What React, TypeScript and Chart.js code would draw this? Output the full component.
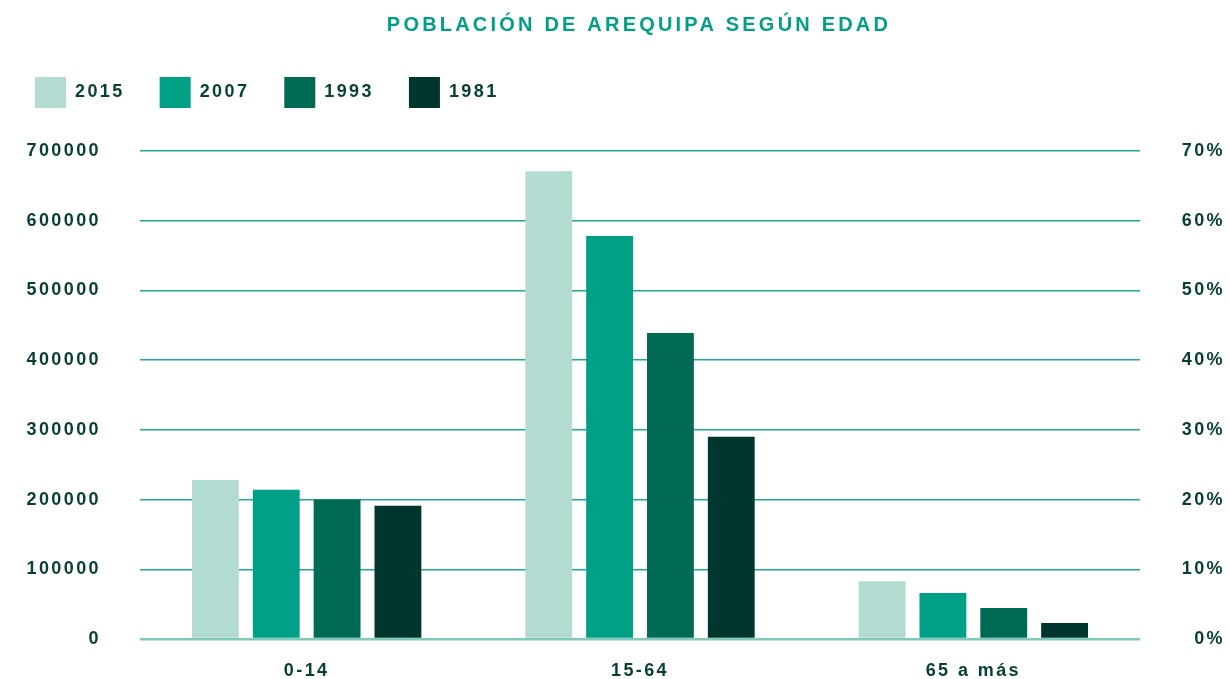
import React, { useEffect, useRef } from 'react';
import { Chart, registerables } from 'chart.js';

Chart.register(...registerables);

const TITLE = 'POBLACIÓN DE AREQUIPA SEGÚN EDAD';
const categories = ['0-14', '15-64', '65 a más'];
const years = ['2015', '2007', '1993', '1981'];
const pop2015 = [228000, 671000, 83000];
const pop2007 = [214000, 578000, 66000];
const pop1993 = [200000, 439000, 44500];
const pop1981 = [191000, 290000, 23000];
const seriesColors = ['#b2dbd1', '#00a086', '#006a54', '#00362d'];
const leftMax = 700000;
const leftStep = 100000;
const rightMax = 0.7;
const rightStep = 0.1;

const FONT = "'Liberation Sans', Arial, sans-serif";
const TEXT_COLOR = '#073f35';
const GRID_COLOR = '#1fa98f';
const ZERO_COLOR = '#7fcab9';
const TITLE_COLOR = '#00a086';

const spacingPlugin = {
  id: 'letterSpacing',
  beforeLayout(chart: any) {
    chart.ctx.letterSpacing = '2.4px';
  },
  beforeDraw(chart: any) {
    chart.ctx.letterSpacing = '2.4px';
  },
};

const titlePlugin = {
  id: 'customTitle',
  afterDraw(chart: any) {
    const { ctx, chartArea } = chart;
    ctx.save();
    ctx.font = `bold 20px ${FONT}`;
    ctx.letterSpacing = '3.2px';
    ctx.fillStyle = TITLE_COLOR;
    ctx.textAlign = 'center';
    ctx.textBaseline = 'middle';
    ctx.fillText(TITLE, (chartArea.left + chartArea.right) / 2 - 1, 25);
    ctx.restore();
  },
};

export default function App() {
  const ref = useRef<HTMLCanvasElement>(null);

  useEffect(() => {
    if (!ref.current) return;
    const seriesValues = [pop2015, pop2007, pop1993, pop1981];
    const tickFont = { family: FONT, size: 18, weight: 'bold' as const };
    const chart = new Chart(ref.current, {
      type: 'bar',
      data: {
        labels: categories,
        datasets: years.map((yr, i) => ({
          label: yr,
          data: seriesValues[i],
          backgroundColor: seriesColors[i],
          borderWidth: 0,
          barPercentage: 0.77,
          categoryPercentage: 0.73,
          xAxisID: 'x',
          yAxisID: 'y',
        })),
      },
      options: {
        animation: false,
        responsive: true,
        maintainAspectRatio: false,
        layout: { padding: { top: 42, left: 0, right: 4, bottom: 0 } },
        plugins: {
          title: { display: false },
          tooltip: { enabled: false },
          legend: {
            display: true,
            position: 'top',
            align: 'start',
            labels: {
              boxWidth: 31,
              boxHeight: 31,
              padding: 35,
              color: TEXT_COLOR,
              font: tickFont,
            },
          },
        },
        scales: {
          x: {
            type: 'category',
            position: 'bottom',
            grid: { display: false, drawTicks: false },
            border: { display: false },
            ticks: { color: TEXT_COLOR, font: tickFont, padding: 21 },
            afterFit: (s: any) => {
              s.height = 40;
            },
          },
          top: {
            type: 'category',
            position: 'top',
            display: true,
            grid: { display: false, drawTicks: false },
            border: { display: false },
            ticks: { display: false },
            afterFit: (s: any) => {
              s.height = 33;
            },
          },
          y: {
            type: 'linear',
            position: 'left',
            min: 0,
            max: leftMax,
            grid: {
              color: (c: any) => (c.tick && c.tick.value === 0 ? ZERO_COLOR : GRID_COLOR),
              lineWidth: (c: any) => (c.tick && c.tick.value === 0 ? 2.5 : 1.5),
              drawTicks: false,
            },
            border: { display: false },
            ticks: {
              stepSize: leftStep,
              color: TEXT_COLOR,
              font: tickFont,
              padding: 39,
              callback: (v: any) => String(v),
            },
            afterFit: (s: any) => {
              s.width = 140;
              s.paddingTop = 0;
              s.paddingBottom = 0;
            },
          },
          y1: {
            type: 'linear',
            position: 'right',
            min: 0,
            max: rightMax,
            grid: { display: false, drawTicks: false },
            border: { display: false },
            ticks: {
              stepSize: rightStep,
              crossAlign: 'far',
              color: TEXT_COLOR,
              font: tickFont,
              callback: (v: any) => `${Math.round(Number(v) * 100)}%`,
            },
            afterFit: (s: any) => {
              s.width = 85;
              s.paddingTop = 0;
              s.paddingBottom = 0;
            },
          },
        },
      },
      plugins: [spacingPlugin, titlePlugin],
    } as any);
    return () => chart.destroy();
  }, []);

  return (
    <div
      style={{
        position: 'absolute',
        left: 0,
        top: 0,
        width: 1229,
        height: 679,
        background: '#ffffff',
      }}
    >
      <canvas ref={ref} />
    </div>
  );
}
